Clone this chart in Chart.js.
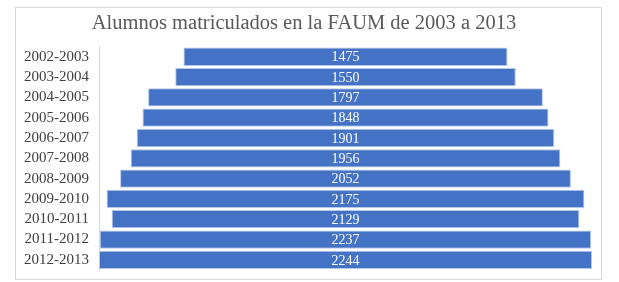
<!DOCTYPE html>
<html>
<head>
<meta charset="utf-8">
<script src="https://cdn.jsdelivr.net/npm/chart.js@4"></script>
<style>
  body { margin: 0; background: #fff; }
  #box {
    position: absolute; left: 15px; top: 7px;
    width: 585px; height: 271px;
    border: 1px solid #d9d9d9;
  }
</style>
</head>
<body>
<div id="box"><canvas id="funnel" width="585" height="271"></canvas></div>
<script>
const periods = ['2002-2003', '2003-2004', '2004-2005', '2005-2006', '2006-2007', '2007-2008',
                 '2008-2009', '2009-2010', '2010-2011', '2011-2012', '2012-2013'];
const students = [1475, 1550, 1797, 1848, 1901, 1956, 2052, 2175, 2129, 2237, 2244];

const maxVal = Math.max(...students);
// each bar is centred on zero so the chart looks like a funnel
const spans = students.map(v => [-v / 2, v / 2]);

// write the value in the middle of every bar
const centreLabels = {
    id: 'centreLabels',
    afterDatasetsDraw(chart) {
        const ctx = chart.ctx;
        const xScale = chart.scales.x;
        const meta = chart.getDatasetMeta(0);
        ctx.save();
        ctx.font = '14px "Liberation Serif"';
        ctx.fillStyle = '#ffffff';
        ctx.textAlign = 'center';
        ctx.textBaseline = 'middle';
        meta.data.forEach((bar, i) => {
            ctx.fillText(students[i], xScale.getPixelForValue(0), bar.y + 1);
        });
        ctx.restore();
    }
};

new Chart(document.getElementById('funnel').getContext('2d'), {
    type: 'bar',
    data: {
        labels: periods,
        datasets: [{
            data: spans,
            backgroundColor: '#4472c4',
            borderColor: '#b4c7e7',
            borderWidth: 1,
            borderSkipped: false,
            barPercentage: 0.9,
            categoryPercentage: 1
        }]
    },
    options: {
        indexAxis: 'y',
        responsive: false,
        animation: false,
        layout: { padding: { left: 0, right: 9, top: 0, bottom: 9 } },
        plugins: {
            legend: { display: false },
            tooltip: { enabled: false },
            title: {
                display: true,
                text: 'Alumnos matriculados en la FAUM de 2003 a 2013',
                color: '#595959',
                font: { family: '"Liberation Serif"', size: 20.5, weight: 'normal' },
                padding: { top: 3, bottom: 11 }
            }
        },
        scales: {
            x: {
                display: false,
                min: -maxVal / 2,
                max: maxVal / 2
            },
            y: {
                grid: { display: false, drawTicks: false },
                border: { color: '#d9d9d9' },
                ticks: {
                    autoSkip: false,
                    color: '#404040',
                    font: { family: '"Liberation Serif"', size: 15 },
                    padding: 10
                },
                afterFit(scale) {
                    scale.width = 83;
                    // labels are well inside the plot, no extra room needed
                    scale.paddingTop = 0;
                    scale.paddingBottom = 0;
                }
            }
        }
    },
    plugins: [centreLabels]
});
</script>
</body>
</html>
